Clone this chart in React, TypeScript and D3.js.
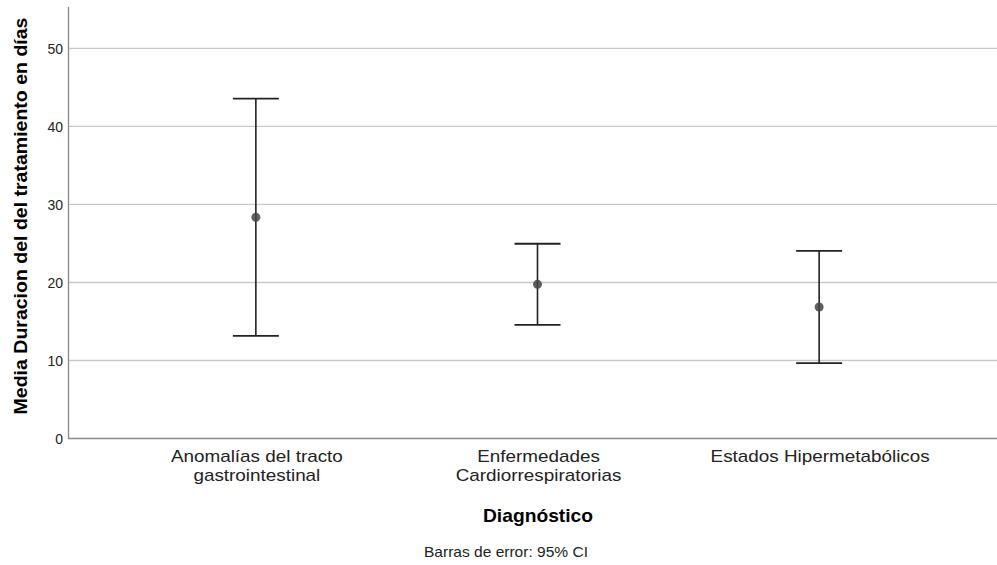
import React from "react";
import * as d3 from "d3";

const categories = [
  ["Anomalías del tracto", "gastrointestinal"],
  ["Enfermedades", "Cardiorrespiratorias"],
  ["Estados Hipermetabólicos"],
];
const means = [28.3, 19.7, 16.8];
const lowerCI = [13.1, 14.5, 9.6];
const upperCI = [43.5, 24.9, 24.0];
const yTicks = [0, 10, 20, 30, 40, 50];

const W = 997;
const H = 565;
const FONT = "'Liberation Sans', Arial, sans-serif";

function SText(props: {
  x: number;
  y: number;
  sx?: number;
  rotate?: number;
  size: number;
  bold?: boolean;
  anchor?: "start" | "middle" | "end";
  fill?: string;
  children: React.ReactNode;
}) {
  const { x, y, sx = 1, rotate = 0, size, bold, anchor = "middle", fill = "#222", children } = props;
  return (
    <text
      transform={`translate(${x},${y}) rotate(${rotate}) scale(${sx},1)`}
      textAnchor={anchor}
      fontSize={size}
      fontWeight={bold ? "bold" : "normal"}
      fill={fill}
    >
      {children}
    </text>
  );
}

export default function App() {
  const left = 68;
  const top = 7;
  const bottom = 438;
  const y = d3.scaleLinear().domain([0, 55.25]).range([bottom, top]);
  const x = d3
    .scalePoint<number>()
    .domain(categories.map((_, i) => i))
    .range([left, 1007])
    .padding(0.667);
  const capHalf = 23;

  return (
    <svg
      width={W}
      height={H}
      style={{ position: "absolute", left: 0, top: 0, background: "#fff" }}
      fontFamily={FONT}
    >
      <rect width={W} height={H} fill="#fff" />
      {yTicks.slice(1).map((t) => (
        <line key={t} x1={left} x2={W} y1={y(t) + 0.5} y2={y(t) + 0.5} stroke="#c9c9c9" strokeWidth={1.3} />
      ))}
      <line x1={left + 0.5} x2={left + 0.5} y1={top} y2={bottom} stroke="#888" strokeWidth={1.3} />
      <line x1={left} x2={W} y1={bottom + 0.5} y2={bottom + 0.5} stroke="#888" strokeWidth={1.5} />
      {yTicks.map((t) => (
        <SText key={t} x={63} y={y(t) + 6} size={14} anchor="end" sx={1.0}>
          {t}
        </SText>
      ))}
      {categories.map((c, i) => {
        const cx = x(i)!;
        return (
          <g key={i}>
            <line x1={cx} x2={cx} y1={y(upperCI[i])} y2={y(lowerCI[i])} stroke="#222" strokeWidth={1.6} />
            <line x1={cx - capHalf} x2={cx + capHalf} y1={y(upperCI[i])} y2={y(upperCI[i])} stroke="#222" strokeWidth={1.8} />
            <line x1={cx - capHalf} x2={cx + capHalf} y1={y(lowerCI[i])} y2={y(lowerCI[i])} stroke="#222" strokeWidth={1.8} />
            <circle cx={cx} cy={y(means[i])} r={4.5} fill="#444" fillOpacity={0.85} />
            {c.map((line, j) => (
              <SText key={j} x={cx + 1} y={462 + j * 19} size={16} sx={1.18}>
                {line}
              </SText>
            ))}
          </g>
        );
      })}
      <SText x={538} y={522} size={17.5} bold sx={1.1} fill="#000">
        Diagnóstico
      </SText>
      <SText x={506} y={557} size={14} sx={1.11}>
        Barras de error: 95% CI
      </SText>
      <SText x={27} y={216} rotate={-90} size={18} bold sx={1.085} fill="#000">
        Media Duracion del del tratamiento en días
      </SText>
    </svg>
  );
}
